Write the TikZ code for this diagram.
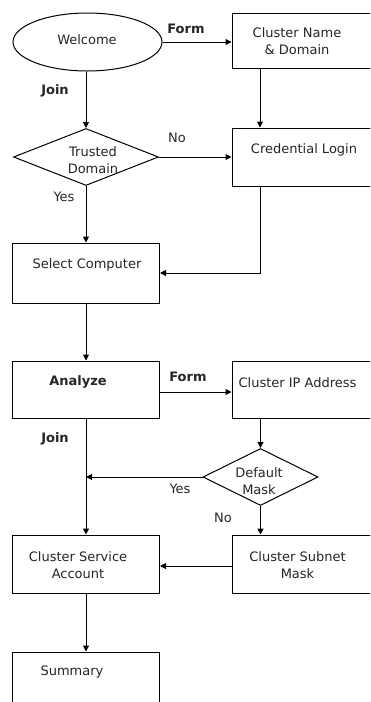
\documentclass[tikz,border=0pt]{standalone}
\usepackage{fontspec}
\setmainfont{DejaVu Sans}
\usetikzlibrary{shapes.geometric,arrows.meta}
\begin{document}
\begin{tikzpicture}[x=1pt,y=-1pt,
  font=\fontsize{13}{16.5}\selectfont,
  box/.style={draw, line width=1pt, inner sep=0pt},
  txt/.style={inner sep=0pt, align=center, text=black!85},
  lbl/.style={inner sep=0pt, text=black!85},
  blbl/.style={inner sep=0pt, text=black!85, font=\fontsize{13}{16.5}\selectfont\bfseries},
  arr/.style={draw, line width=1pt, -{Triangle[length=6pt,width=6pt]}}]
\useasboundingbox (0,0) rectangle (370,702);
\clip (0,0) rectangle (370,702);
\fill[white] (0,0) rectangle (370,702);
% shapes
\node[box, ellipse, minimum width=149pt, minimum height=58pt] (welcome) at (87.5,42) {};
\node[box, minimum width=158pt, minimum height=55pt] (cnd) at (311,40.5) {};
\node[box, diamond, minimum width=145pt, minimum height=57pt] (trusted) at (86,157) {};
\node[box, minimum width=158pt, minimum height=58pt] (cred) at (311,157) {};
\node[box, minimum width=147pt, minimum height=60pt] (select) at (86,273) {};
\node[box, minimum width=147pt, minimum height=57pt] (analyze) at (86,389.5) {};
\node[box, minimum width=158pt, minimum height=57pt] (cip) at (311,389.5) {};
\node[box, diamond, minimum width=115pt, minimum height=57pt] (mask) at (260.5,477) {};
\node[box, minimum width=147pt, minimum height=58pt] (csa) at (86,564) {};
\node[box, minimum width=158pt, minimum height=58pt] (csm) at (311,564) {};
\node[box, minimum width=147pt, minimum height=70pt] (summary) at (86,687) {};
% texts
\node[txt] (twelcome) at (87,40) {Welcome};
\node[txt] (tcnd) at (297,41) {Cluster Name\\\& Domain};
\node[txt] (ttrusted) at (93,160) {Trusted\\Domain};
\node[txt] (tcred) at (304,150) {Credential Login};
\node[txt] (tselect) at (87,265) {Select Computer};
\node[txt, font=\fontsize{13}{16.5}\selectfont\bfseries] (tanalyze) at (78,382) {Analyze};
\node[txt] (tcip) at (297.5,383) {Cluster IP Address};
\node[txt] (tmask) at (259,481) {Default\\Mask};
\node[txt] (tcsa) at (78,565) {Cluster Service\\Account};
\node[txt] (tcsm) at (297.5,565) {Cluster Subnet\\Mask};
\node[txt] (tsummary) at (72,672) {Summary};
% labels
\node[blbl] (form1) at (186,29) {Form};
\node[blbl] (join1) at (55,91) {Join};
\node[lbl] (no1) at (177,138) {No};
\node[lbl] (yes1) at (64,197) {Yes};
\node[blbl] (form2) at (188,377) {Form};
\node[blbl] (join2) at (55,439) {Join};
\node[lbl] (yes2) at (180,489) {Yes};
\node[lbl] (no2) at (223,518) {No};
% connectors
\coordinate (rx) at (260,0);
\draw[arr] (welcome.east) -- (welcome.east -| cnd.west);
\draw[arr] (trusted.north |- welcome.south) -- (trusted.north);
\draw[arr] (cnd.south -| rx) -- (cred.north -| rx);
\draw[arr] (trusted.east) -- (cred.west);
\draw[arr] (trusted.south) -- (select.north);
\draw[arr] (cred.south -| rx) |- (select.east);
\draw[arr] (select.south) -- (analyze.north);
\draw[arr] (analyze.east) ++(0,2.5) coordinate (ae) -- (ae -| cip.west);
\draw[arr] (cip.south -| mask.north) -- (mask.north);
\draw[arr] (analyze.south) -- (csa.north);
\draw[arr] (mask.west) -- (analyze.south |- mask.west);
\draw[arr] (mask.south) -- (mask.south |- csm.north);
\draw[arr] (csm.west) ++(0,2) coordinate (cw) -- (cw -| csa.east);
\draw[arr] (csa.south) -- (summary.north);
\end{tikzpicture}
\end{document}
